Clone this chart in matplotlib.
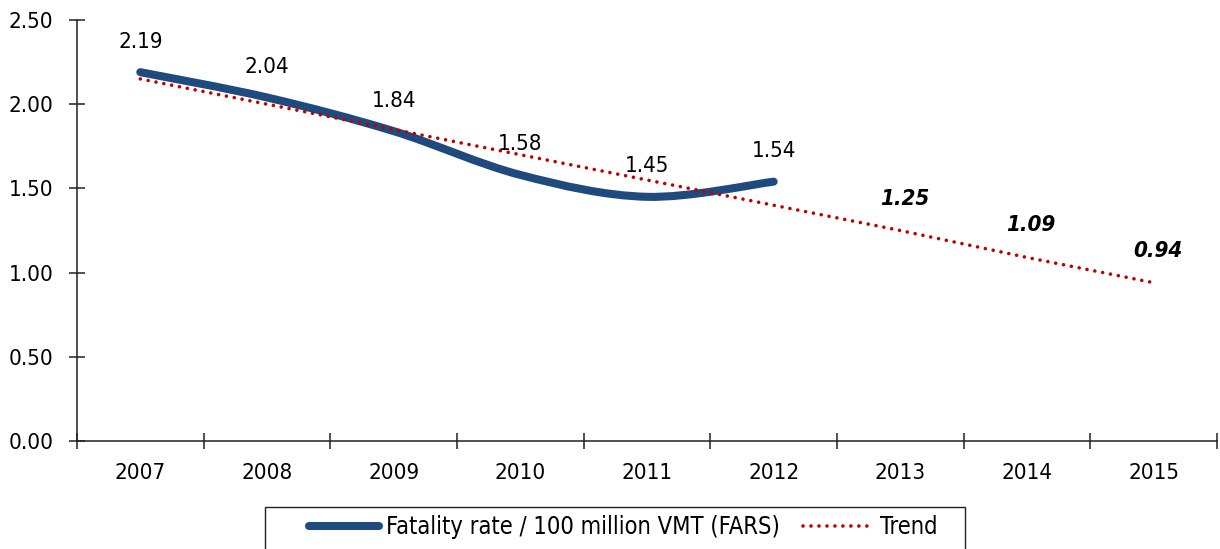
'''
Fatality rate per 100 million VMT with linear trend projection to 2015.
'''
import numpy as np
import matplotlib
matplotlib.use('Agg')
import matplotlib.pyplot as plt
from matplotlib.path import Path
from matplotlib.patches import PathPatch, Rectangle
from matplotlib.lines import Line2D

plt.rcParams['font.family'] = ['Liberation Sans Narrow', 'DejaVu Sans']
plt.rcParams['font.stretch'] = 'condensed'

years = ['2007', '2008', '2009', '2010', '2011', '2012', '2013', '2014', '2015']
fatalityRate = [2.19, 2.04, 1.84, 1.58, 1.45, 1.54]
trendValues = [2.15, 2.00, 1.85, 1.70, 1.55, 1.40, 1.25, 1.09, 0.94]
projectedLabels = ['1.25', '1.09', '0.94']

lineColor = '#1F4A7D'
trendColor = '#C00000'
trendStyle = (0, (0.01, 2.2))
fontSizeTicks = 16
fontSizeLabels = 16
fontSizeLegend = 17

fig = plt.figure(figsize=(12.2, 5.49), dpi=100)
ax = fig.add_axes([0.0631, 0.1967, 0.9344, 0.7669])

# -- smoothed line (Catmull-Rom style bezier, like the spreadsheet "smoothed line") --
xs = np.arange(len(fatalityRate), dtype=float)
ys = np.array(fatalityRate)
verts = [(xs[0], ys[0])]
codes = [Path.MOVETO]
n = len(xs)
for i in range(n - 1):
    p0 = np.array([xs[max(i - 1, 0)], ys[max(i - 1, 0)]])
    p1 = np.array([xs[i], ys[i]])
    p2 = np.array([xs[i + 1], ys[i + 1]])
    p3 = np.array([xs[min(i + 2, n - 1)], ys[min(i + 2, n - 1)]])
    c1 = p1 + (p2 - p0) / 6.0
    c2 = p2 - (p3 - p1) / 6.0
    verts += [tuple(c1), tuple(c2), tuple(p2)]
    codes += [Path.CURVE4] * 3
curve = PathPatch(Path(verts, codes), facecolor='none', edgecolor=lineColor,
                  lw=5.8, capstyle='round', joinstyle='round', zorder=3)
ax.add_patch(curve)

# -- trend --
ax.plot(np.arange(len(trendValues)), trendValues, color=trendColor, lw=2.6,
        linestyle=trendStyle, dash_capstyle='round', zorder=4)

# -- data labels --
for i, v in enumerate(fatalityRate):
    ax.annotate('%.2f' % v, (i, v), xytext=(0, 22), textcoords='offset points',
                ha='center', va='center', fontsize=fontSizeLabels)
for j, lab in enumerate(projectedLabels):
    i = len(fatalityRate) + j
    ax.annotate(lab, (i, trendValues[i]), xytext=(3, 23), textcoords='offset points',
                ha='center', va='center', fontsize=fontSizeLabels,
                fontweight='bold', fontstyle='italic')

ax.set_xlim(-0.5, len(years) - 0.5)
ax.set_ylim(0, 2.5)
ax.set_yticks(np.arange(0, 2.51, 0.5))
ax.set_yticklabels(['%.2f' % t for t in np.arange(0, 2.51, 0.5)])
ax.set_xticks(np.arange(len(years) + 1) - 0.5)
ax.set_xticklabels([])
ax.set_xticks(np.arange(len(years)), minor=True)
ax.set_xticklabels(years, minor=True)
ax.tick_params(axis='both', which='major', direction='inout', length=12, width=1.1,
               labelsize=fontSizeTicks, color='#222222')
ax.tick_params(axis='y', pad=11)
ax.tick_params(axis='x', which='minor', length=0, pad=16, labelsize=fontSizeTicks)
for side in ['top', 'right']:
    ax.spines[side].set_visible(False)
for side in ['left', 'bottom']:
    ax.spines[side].set_linewidth(1.1)
    ax.spines[side].set_color('#222222')

# -- legend: frame drawn separately (content sits inside a wider box) --
W, H = 1220.0, 549.0
fig.patches.append(Rectangle((265 / W, -0.05), (965 - 265) / W, 0.05 + (H - 507) / H,
                             transform=fig.transFigure, facecolor='white',
                             edgecolor='#222222', lw=1.0, zorder=1))
handles = [Line2D([], [], color=lineColor, lw=5.8, solid_capstyle='round'),
           Line2D([], [], color=trendColor, lw=2.6, linestyle=trendStyle,
                  dash_capstyle='round')]
leg = fig.legend(handles, ['Fatality rate / 100 million VMT (FARS)', 'Trend'],
                 loc='center left', bbox_to_anchor=(309 / W, 1 - 527 / H),
                 ncol=2, frameon=False, fontsize=fontSizeLegend,
                 handlelength=2.95, handletextpad=0.3, columnspacing=1.0,
                 borderpad=0, borderaxespad=0)
leg.set_zorder(2)

fig.savefig('out.png', dpi=100)
